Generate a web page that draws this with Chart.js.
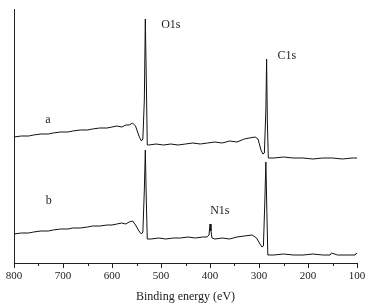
<!DOCTYPE html>
<html>
<head>
<meta charset="utf-8">
<script src="https://cdn.jsdelivr.net/npm/chart.js@4"></script>
<style>
  body { margin: 0; background: #fff; }
  #wrap { width: 368px; height: 308px; }
</style>
</head>
<body>
<div id="wrap"><canvas id="myChart"></canvas></div>
<script>
// binding energy (eV) and intensity (a.u.)
const energyA = [800, 785, 770, 760, 745, 730, 720, 705, 690, 680, 665, 650, 640, 625, 610, 600, 590, 580, 572, 565, 558, 552, 545, 540, 537, 534, 532, 530, 528, 525, 510, 495, 480, 465, 450, 435, 420, 405, 390, 375, 360, 345, 330, 320, 308, 302, 296, 292, 289, 286, 284.5, 283, 281, 270, 250, 230, 210, 190, 170, 150, 130, 110, 100];
const intensA = [126, 127, 127, 128, 129, 129, 130, 131, 131, 132, 133, 133, 134, 135, 135, 136, 137, 136, 138, 138, 140, 137, 127, 122, 124, 163, 244, 183, 118, 118, 119, 118, 119, 118, 119, 120, 119, 120, 121, 120, 122, 121, 124, 125, 126, 124, 113, 109, 110, 153, 204, 143, 105, 105, 106, 105, 105, 104, 105, 105, 104, 105, 105];

const energyB = [800, 785, 770, 760, 745, 730, 720, 705, 690, 680, 665, 650, 640, 625, 610, 600, 590, 580, 572, 565, 558, 552, 545, 540, 537, 534, 532, 530, 528, 520, 505, 490, 475, 460, 445, 430, 415, 406, 402, 400, 398, 396, 390, 375, 360, 345, 330, 314, 305, 298, 294, 291, 288, 286, 284, 282, 270, 250, 230, 210, 190, 170, 155, 152, 140, 120, 104, 101, 100];
const intensB = [29, 30, 30, 31, 32, 32, 33, 34, 34, 35, 35, 36, 37, 37, 38, 38, 39, 40, 39, 41, 42, 38, 32, 29, 31, 73, 113, 63, 24, 24, 25, 24, 25, 25, 26, 25, 26, 26, 28, 39, 32, 25, 24, 25, 24, 26, 27, 28, 25, 19, 16, 17, 63, 101, 53, 8, 8, 9, 8, 8, 9, 8, 8, 10, 8, 8, 8, 10, 9];

const xTicks = [800, 700, 600, 500, 400, 300, 200, 100];

// peak labels
const labelText = ['O1s', 'C1s', 'N1s', 'a', 'b'];
const labelE = [480, 243, 380, 731, 729];
const labelI = [238, 207, 52, 143, 62];

function toPoints(xs, ys) {
  return xs.map((x, i) => ({x: x, y: ys[i]}));
}

// tick marks below the axis, tick labels and peak names
const axisMarks = {
  id: 'axisMarks',
  afterDraw(chart) {
    const ctx = chart.ctx;
    const xs = chart.scales.x;
    const ys = chart.scales.y;
    ctx.save();
    ctx.strokeStyle = '#222';
    ctx.lineWidth = 1;
    for (const t of xs.ticks) {
      const px = Math.round(xs.getPixelForValue(t.value)) + 0.5;
      const len = xTicks.includes(t.value) ? 5 : 3;
      ctx.beginPath();
      ctx.moveTo(px, xs.top);
      ctx.lineTo(px, xs.top + len);
      ctx.stroke();
    }
    ctx.fillStyle = '#222';
    ctx.textAlign = 'center';
    ctx.textBaseline = 'middle';
    ctx.font = '11px "Liberation Serif"';
    for (const v of xTicks) {
      ctx.fillText(String(v), xs.getPixelForValue(v), xs.top + 13);
    }
    ctx.font = '12px "Liberation Serif"';
    for (let i = 0; i < labelText.length; i++) {
      ctx.fillText(labelText[i], xs.getPixelForValue(labelE[i]), ys.getPixelForValue(labelI[i]));
    }
    ctx.restore();
  }
};

const ctx = document.getElementById('myChart').getContext('2d');
new Chart(ctx, {
  type: 'line',
  data: {
    datasets: [
      { label: 'a', data: toPoints(energyA, intensA), borderColor: '#111', borderWidth: 1, pointRadius: 0, tension: 0 },
      { label: 'b', data: toPoints(energyB, intensB), borderColor: '#111', borderWidth: 1, pointRadius: 0, tension: 0 }
    ]
  },
  options: {
    responsive: true,
    maintainAspectRatio: false,
    animation: false,
    layout: { padding: { left: 14, right: 11, top: 9, bottom: 4 } },
    plugins: { legend: { display: false }, tooltip: { enabled: false } },
    scales: {
      x: {
        type: 'linear',
        reverse: true,
        min: 100,
        max: 800,
        grid: { display: false, drawTicks: false },
        border: { display: true, color: '#222', width: 1 },
        ticks: { display: false, stepSize: 50 },
        title: {
          display: true,
          text: 'Binding energy (eV)',
          color: '#222',
          font: { family: 'Liberation Serif', size: 12 },
          padding: { top: 26.6, bottom: 0 }
        }
      },
      y: {
        min: 0,
        max: 254,
        grid: { display: false, drawTicks: false },
        border: { display: true, color: '#222', width: 1 },
        ticks: { display: false }
      }
    }
  },
  plugins: [axisMarks]
});
</script>
</body>
</html>
